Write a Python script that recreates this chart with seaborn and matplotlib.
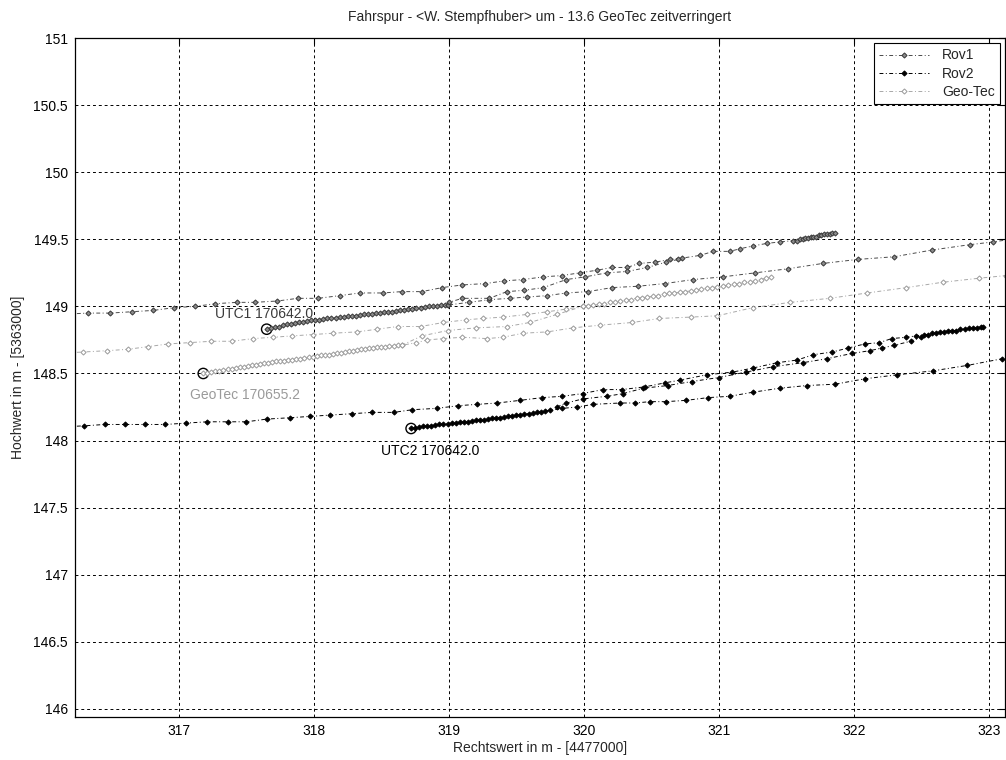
import matplotlib
matplotlib.use("Agg")
import matplotlib.pyplot as plt
import pandas as pd
import seaborn as sns
from matplotlib.lines import Line2D
from matplotlib.ticker import FuncFormatter

# ---------------------------------------------------------------------------
# Track data (Rechtswert / Hochwert, metres, offsets removed)
# ---------------------------------------------------------------------------
# Rov1: pass starting at the UTC1 epoch
rov1_a_x = [317.65, 317.68, 317.71, 317.74, 317.77, 317.80, 317.83, 317.86, 317.89, 317.92,
            317.95, 317.98, 318.01, 318.04, 318.07, 318.10, 318.13, 318.16, 318.19, 318.22,
            318.25, 318.28, 318.31, 318.34, 318.37, 318.40, 318.43, 318.46, 318.49, 318.52,
            318.55, 318.58, 318.61, 318.64, 318.67, 318.70, 318.73, 318.76, 318.79, 318.82,
            318.85, 318.88, 318.91, 318.94, 318.97, 318.99,
            319.15, 319.30, 319.45, 319.58, 319.73, 319.87, 320.03, 320.21, 320.40, 320.60,
            320.81, 321.03, 321.27, 321.51, 321.77, 322.03, 322.30, 322.58, 322.86, 323.03,
            323.30]
rov1_a_y = [148.83, 148.84, 148.845, 148.85, 148.86, 148.865, 148.87, 148.875, 148.88, 148.885,
            148.89, 148.895, 148.90, 148.90, 148.905, 148.91, 148.91, 148.915, 148.92, 148.92,
            148.925, 148.93, 148.93, 148.935, 148.94, 148.94, 148.945, 148.95, 148.95, 148.955,
            148.96, 148.96, 148.965, 148.97, 148.975, 148.98, 148.98, 148.985, 148.99, 148.995,
            149.00, 149.00, 149.005, 149.01, 149.01, 149.01,
            149.03, 149.05, 149.06, 149.07, 149.08, 149.10, 149.11, 149.14, 149.15, 149.17,
            149.20, 149.22, 149.25, 149.28, 149.32, 149.35, 149.37, 149.42, 149.46, 149.48,
            149.52]
# Rov1: pass entering from the west and stopping near 321.9
rov1_b_x = [316.10, 316.33, 316.49, 316.65, 316.81, 316.96, 317.12, 317.27, 317.43, 317.56,
            317.73, 317.88, 318.03, 318.19, 318.34, 318.51, 318.65, 318.80, 318.95, 319.10,
            319.27, 319.41, 319.55, 319.70, 319.84, 319.97, 320.10, 320.21, 320.32, 320.41,
            320.53, 320.64, 320.73, 320.86, 320.96, 321.08, 321.16, 321.25, 321.36, 321.45,
            321.55, 321.58, 321.60, 321.62, 321.64, 321.66, 321.68, 321.70, 321.72, 321.74,
            321.76, 321.78, 321.80, 321.82, 321.84, 321.86]
rov1_b_y = [148.94, 148.95, 148.95, 148.96, 148.97, 148.99, 149.00, 149.02, 149.03, 149.03,
            149.04, 149.06, 149.06, 149.08, 149.10, 149.10, 149.11, 149.11, 149.14, 149.16,
            149.17, 149.19, 149.20, 149.22, 149.23, 149.25, 149.27, 149.29, 149.29, 149.32,
            149.33, 149.35, 149.36, 149.38, 149.41, 149.41, 149.43, 149.45, 149.47, 149.48,
            149.49, 149.49, 149.50, 149.50, 149.51, 149.51, 149.52, 149.52, 149.52, 149.53,
            149.53, 149.54, 149.54, 149.54, 149.55, 149.55]
# Rov1: short connecting pass
rov1_c_x = [318.99, 319.00, 319.10, 319.30, 319.43, 319.56, 319.70, 319.87, 320.01, 320.17,
            320.32, 320.47, 320.61, 320.70]
rov1_c_y = [149.01, 149.03, 149.06, 149.06, 149.11, 149.12, 149.14, 149.20, 149.22, 149.25,
            149.26, 149.29, 149.33, 149.35]

# Rov2: pass starting at the UTC2 epoch
rov2_a_x = [318.72, 318.75, 318.78, 318.81, 318.84, 318.87, 318.90, 318.93, 318.96, 318.99,
            319.02, 319.05, 319.08, 319.11, 319.14, 319.17, 319.20, 319.23, 319.26, 319.29,
            319.32, 319.35, 319.38, 319.41, 319.44, 319.47, 319.50, 319.53, 319.56, 319.59,
            319.62, 319.65, 319.68, 319.71, 319.75, 319.84, 319.95, 320.07, 320.27, 320.38,
            320.49, 320.61, 320.76, 320.92, 321.08, 321.25, 321.45, 321.65, 321.86, 322.08,
            322.32, 322.59, 322.84, 323.10, 323.30]
rov2_a_y = [148.09, 148.095, 148.10, 148.105, 148.11, 148.11, 148.115, 148.12, 148.12, 148.125,
            148.13, 148.13, 148.135, 148.14, 148.14, 148.145, 148.15, 148.15, 148.155, 148.16,
            148.165, 148.17, 148.17, 148.175, 148.18, 148.185, 148.19, 148.19, 148.20, 148.20,
            148.205, 148.21, 148.215, 148.22, 148.225, 148.24, 148.25, 148.27, 148.28, 148.28,
            148.29, 148.29, 148.30, 148.32, 148.33, 148.36, 148.39, 148.41, 148.42, 148.46,
            148.49, 148.52, 148.56, 148.61, 148.64]
rov2_b_x = [316.10, 316.30, 316.45, 316.60, 316.75, 316.90, 317.05, 317.21, 317.36, 317.50,
            317.65, 317.82, 317.97, 318.12, 318.28, 318.43, 318.59, 318.73, 318.91, 319.07,
            319.21, 319.36, 319.53, 319.69, 319.84, 319.99, 320.14, 320.28, 320.45, 320.60,
            320.71, 320.91, 321.10, 321.25, 321.43, 321.58, 321.70, 321.84, 321.96, 322.08,
            322.19, 322.28, 322.39, 322.46, 322.52, 322.55, 322.58, 322.61, 322.64, 322.67,
            322.70, 322.73, 322.76, 322.79, 322.82, 322.85, 322.88, 322.91, 322.94, 322.96]
rov2_b_y = [148.10, 148.11, 148.12, 148.12, 148.12, 148.12, 148.13, 148.14, 148.14, 148.14,
            148.16, 148.17, 148.18, 148.19, 148.20, 148.21, 148.21, 148.23, 148.24, 148.26,
            148.27, 148.28, 148.30, 148.32, 148.33, 148.35, 148.38, 148.38, 148.40, 148.43,
            148.45, 148.49, 148.51, 148.54, 148.58, 148.60, 148.64, 148.66, 148.69, 148.72,
            148.73, 148.76, 148.77, 148.78, 148.79, 148.79, 148.80, 148.80, 148.81, 148.81,
            148.82, 148.82, 148.82, 148.83, 148.83, 148.84, 148.84, 148.84, 148.85, 148.85]
rov2_c_x = [319.80, 319.87, 319.99, 320.17, 320.29, 320.44, 320.62, 320.80, 321.00, 321.20,
            321.40, 321.62, 321.80, 321.99, 322.12, 322.21, 322.30, 322.42, 322.50]
rov2_c_y = [148.25, 148.28, 148.31, 148.33, 148.35, 148.39, 148.41, 148.44, 148.47, 148.51,
            148.55, 148.58, 148.61, 148.65, 148.67, 148.69, 148.71, 148.74, 148.77]

# Geo-Tec: pass starting at the GeoTec epoch
geo_a_x = [317.18, 317.21, 317.24, 317.27, 317.30, 317.33, 317.36, 317.39, 317.42, 317.45,
           317.48, 317.51, 317.54, 317.57, 317.60, 317.63, 317.66, 317.69, 317.72, 317.75,
           317.78, 317.81, 317.84, 317.87, 317.90, 317.93, 317.96, 317.99, 318.02, 318.05,
           318.08, 318.11, 318.14, 318.17, 318.20, 318.23, 318.26, 318.29, 318.32, 318.35,
           318.38, 318.41, 318.44, 318.47, 318.50, 318.53, 318.56, 318.59, 318.62, 318.65,
           318.76, 318.84, 318.96, 319.10, 319.28, 319.40, 319.55, 319.73, 319.92, 320.12,
           320.36, 320.56, 320.79, 320.99, 321.25, 321.53, 321.82, 322.10, 322.39, 322.66,
           322.93, 323.13, 323.30]
geo_a_y = [148.50, 148.505, 148.51, 148.515, 148.52, 148.525, 148.53, 148.535, 148.54, 148.545,
           148.55, 148.555, 148.56, 148.565, 148.57, 148.575, 148.58, 148.585, 148.59, 148.59,
           148.595, 148.60, 148.60, 148.605, 148.61, 148.615, 148.62, 148.625, 148.63, 148.635,
           148.64, 148.64, 148.645, 148.65, 148.655, 148.66, 148.665, 148.67, 148.675, 148.68,
           148.685, 148.69, 148.69, 148.695, 148.70, 148.70, 148.705, 148.705, 148.71, 148.71,
           148.73, 148.75, 148.76, 148.77, 148.76, 148.77, 148.80, 148.81, 148.84, 148.86,
           148.88, 148.91, 148.92, 148.93, 148.99, 149.03, 149.06, 149.10, 149.14, 149.18,
           149.21, 149.23, 149.25]
geo_b_x = [316.10, 316.29, 316.47, 316.62, 316.77, 316.92, 317.08, 317.24, 317.39, 317.55,
           317.70, 317.84, 317.99, 318.14, 318.32, 318.47, 318.62, 318.79, 318.96, 319.13,
           319.25, 319.40, 319.58, 319.73, 319.87, 319.99, 320.03, 320.07, 320.11, 320.15,
           320.19, 320.23, 320.27, 320.31, 320.35, 320.39, 320.43, 320.47, 320.51, 320.55,
           320.59, 320.63, 320.67, 320.71, 320.75, 320.79, 320.83, 320.87, 320.91, 320.95,
           320.99, 321.03, 321.07, 321.11, 321.15, 321.19, 321.23, 321.27, 321.31, 321.35,
           321.39]
geo_b_y = [148.65, 148.66, 148.67, 148.68, 148.70, 148.72, 148.73, 148.74, 148.74, 148.76,
           148.77, 148.78, 148.79, 148.80, 148.81, 148.83, 148.85, 148.85, 148.88, 148.90,
           148.91, 148.92, 148.94, 148.96, 148.98, 149.00, 149.005, 149.01, 149.015, 149.02,
           149.03, 149.035, 149.04, 149.045, 149.05, 149.06, 149.065, 149.07, 149.075, 149.08,
           149.09, 149.10, 149.10, 149.105, 149.11, 149.115, 149.12, 149.13, 149.135, 149.14,
           149.145, 149.15, 149.16, 149.165, 149.17, 149.18, 149.185, 149.19, 149.20, 149.21,
           149.22]
# Geo-Tec: short connecting pass
geo_c_x = [318.65, 318.80, 318.99, 319.20, 319.43, 319.60, 319.80, 319.99]
geo_c_y = [148.71, 148.78, 148.82, 148.84, 148.85, 148.88, 148.94, 149.00]

# Epoch labels
label_text = ["UTC1 170642.0", "UTC2 170642.0", "GeoTec 170655.2"]
label_x = [317.27, 318.50, 317.08]
label_y = [148.94, 147.92, 148.34]

x_ticks = [317, 318, 319, 320, 321, 322, 323]
y_ticks = [146, 146.5, 147, 147.5, 148, 148.5, 149, 149.5, 150, 150.5, 151]

# ---------------------------------------------------------------------------
rows = []
for rec, pid, xs, ys in [
    ("Rov1", "a", rov1_a_x, rov1_a_y), ("Rov1", "b", rov1_b_x, rov1_b_y),
    ("Rov1", "c", rov1_c_x, rov1_c_y),
    ("Rov2", "a", rov2_a_x, rov2_a_y), ("Rov2", "b", rov2_b_x, rov2_b_y),
    ("Rov2", "c", rov2_c_x, rov2_c_y),
    ("Geo-Tec", "a", geo_a_x, geo_a_y), ("Geo-Tec", "b", geo_b_x, geo_b_y),
    ("Geo-Tec", "c", geo_c_x, geo_c_y),
]:
    rows.append(pd.DataFrame({"receiver": rec, "pass": pid, "x": xs, "y": ys}))
tracks = pd.concat(rows, ignore_index=True)

starts = pd.DataFrame({"x": [rov1_a_x[0], rov2_a_x[0], geo_a_x[0]],
                       "y": [rov1_a_y[0], rov2_a_y[0], geo_a_y[0]]})

sns.set_theme(style="white")
plt.rcParams["font.family"] = ["Liberation Sans", "DejaVu Sans"]
plt.rcParams["font.size"] = 10

fig = plt.figure(figsize=(10.06, 7.6), dpi=100)
ax = fig.add_axes([75 / 1006, 1 - 717 / 760, 930 / 1006, 679 / 760])

dashdot = (0, (4, 2.5, 1, 2.5))
styles = {
    "Rov1": dict(color="#4a4a4a", mfc="#8a8a8a", mec="#383838"),
    "Rov2": dict(color="#000000", mfc="#000000", mec="#000000"),
    "Geo-Tec": dict(color="#a8a8a8", mfc="#ffffff", mec="#9a9a9a"),
}
msize = 2.6

for rec in ["Rov1", "Rov2", "Geo-Tec"]:
    st = styles[rec]
    sns.lineplot(data=tracks[tracks["receiver"] == rec], x="x", y="y", units="pass",
                 estimator=None, sort=False, ax=ax, legend=False,
                 color=st["color"], linestyle=dashdot, linewidth=0.7,
                 marker="D", markersize=msize, markerfacecolor=st["mfc"],
                 markeredgecolor=st["mec"], markeredgewidth=0.7)

sns.scatterplot(data=starts, x="x", y="y", ax=ax, marker="o", s=55,
                facecolor="none", edgecolor="black", linewidth=1.0, legend=False)

label_colors = ["#3a3a3a", "#000000", "#9a9a9a"]
for t, lx, ly, c in zip(label_text, label_x, label_y, label_colors):
    ax.text(lx, ly, t, color=c, fontsize=10, va="center", ha="left")

ax.set_xlim(316.23, 323.12)
ax.set_ylim(145.94, 151.0)
ax.set_xticks(x_ticks)
ax.set_yticks(y_ticks)
ax.yaxis.set_major_formatter(FuncFormatter(lambda v, p: f"{v:g}"))
ax.xaxis.set_major_formatter(FuncFormatter(lambda v, p: f"{v:g}"))

ax.grid(True, color="black", linestyle=(0, (3, 3)), linewidth=0.7)
ax.set_axisbelow(True)
for sp in ax.spines.values():
    sp.set_color("black")
    sp.set_linewidth(0.9)
ax.tick_params(direction="in", length=4, width=0.8, top=True, right=True,
               labelsize=10, colors="black", pad=5)

ax.set_title("Fahrspur - <W. Stempfhuber> um - 13.6 GeoTec zeitverringert",
             fontsize=10, pad=12)
ax.set_xlabel("Rechtswert in m - [4477000]", fontsize=10, labelpad=2)
ax.set_ylabel("Hochwert in m - [5363000]", fontsize=10, labelpad=6)

handles = [Line2D([], [], color=styles[r]["color"], linestyle=dashdot, linewidth=0.7,
                  marker="D", markersize=msize, markerfacecolor=styles[r]["mfc"],
                  markeredgecolor=styles[r]["mec"], markeredgewidth=0.7)
           for r in ["Rov1", "Rov2", "Geo-Tec"]]
leg = ax.legend(handles, ["Rov1", "Rov2", "Geo-Tec"], loc="upper right", frameon=True,
                fancybox=False, framealpha=1, edgecolor="black", fontsize=10,
                handlelength=3.6, handletextpad=0.9, labelspacing=0.3,
                borderaxespad=0.35, borderpad=0.4)
leg.get_frame().set_linewidth(0.8)

fig.savefig("out.png", dpi=100)
